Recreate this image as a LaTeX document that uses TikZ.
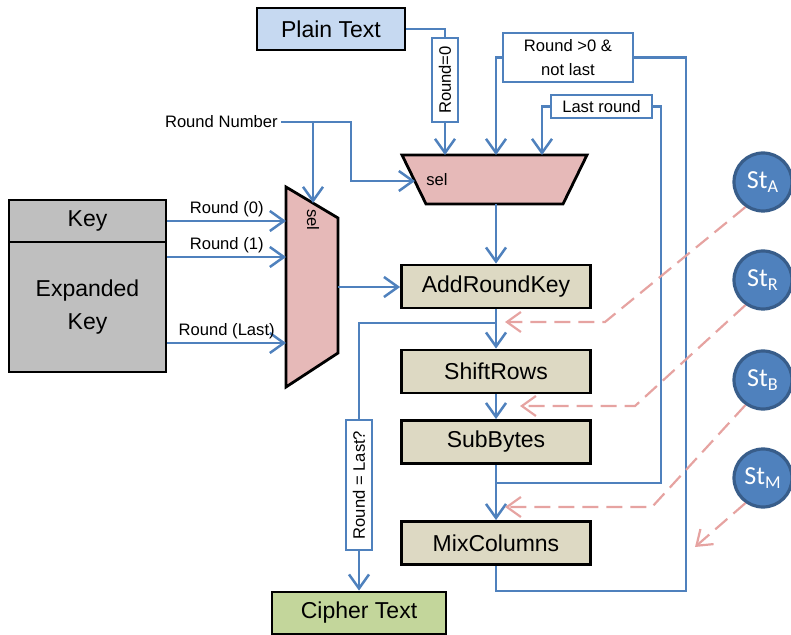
\documentclass[tikz,border=0pt]{standalone}
\usepackage{fontspec}
\setmainfont{Liberation Sans}
\newfontfamily\stfont{Carlito}
\usepackage{graphicx}
\usetikzlibrary{arrows.meta}

\definecolor{wireblue}{HTML}{4F81BD}
\definecolor{plainfill}{HTML}{C6D9F1}
\definecolor{keyfill}{HTML}{BFBFBF}
\definecolor{stagefill}{HTML}{DDD9C3}
\definecolor{cipherfill}{HTML}{C3D69B}
\definecolor{muxfill}{HTML}{E6B9B8}
\definecolor{dashpink}{HTML}{E6A3A1}
\definecolor{stfill}{HTML}{4F81BD}
\definecolor{stborder}{HTML}{385D8A}

\tikzset{
  wire/.style={draw=wireblue, line width=1.25pt},
  wirearrow/.style={wire, -{Straight Barb[length=7pt,width=10pt]}},
  statearrow/.style={draw=dashpink, line width=1.1pt, dash pattern=on 8pt off 4pt, -{Straight Barb[length=7pt,width=10pt]}},
  blockbox/.style={draw, line width=1.4pt, inner sep=0pt, font=\fontsize{11.5}{16.5}\selectfont},
  stagebox/.style={blockbox, fill=stagefill, minimum width=94.5pt, minimum height=21.5pt},
  condbox/.style={draw=wireblue, line width=1.1pt, fill=white, inner sep=0pt, font=\fontsize{8.3}{12}\selectfont},
  busname/.style={font=\fontsize{8.3}{10}\selectfont, inner sep=1.5pt},
  muxshape/.style={draw, line width=1.4pt, fill=muxfill},
  statenode/.style={circle, draw=stborder, line width=1.6pt, fill=stfill, minimum size=29pt, inner sep=0pt, text=white, font=\stfont\fontsize{13}{14}\selectfont}
}

\begin{document}
\begin{tikzpicture}[x=0.5pt,y=-0.5pt]
\useasboundingbox (0,0) rectangle (791,635);

% inputs and outputs
\node[blockbox, fill=plainfill, minimum width=74pt, minimum height=21pt] (plain) at (331,29) {Plain Text};
\node[blockbox, fill=keyfill, minimum width=78.5pt, minimum height=21pt] (key) at (87.5,221) {Key};
\node[blockbox, fill=keyfill, minimum width=78.5pt, minimum height=65pt, align=center] (expkey) at (87.5,307) {Expanded\\Key};
\node[blockbox, fill=cipherfill, minimum width=87pt, minimum height=21pt] (cipher) at (359,613) {Cipher Text};

% round stages
\node[stagebox] (ark) at (496,286.5) {AddRoundKey};
\node[stagebox] (shift) at (496,371.5) {ShiftRows};
\node[stagebox] (sub) at (496,442) {SubBytes};
\node[stagebox] (mix) at (496,543) {MixColumns};

% condition labels
\node[condbox, minimum width=13pt, minimum height=42pt] (round0) at (445,80) {\rotatebox{90}{Round=0}};
\node[condbox, minimum width=13pt, minimum height=65pt] (islast) at (359,485) {\rotatebox{90}{Round = Last?}};
\node[condbox, minimum width=65pt, minimum height=24.5pt, align=center] (notlast) at (568,57.5) {Round >0 \&\\not last};
\node[condbox, minimum width=50.5pt, minimum height=11.5pt] (lastrnd) at (601.5,106.5) {Last round};
\node[busname, anchor=east] (rnum) at (281,122) {Round Number};

% multiplexers
\draw[muxshape] (286,187) -- (338,218) -- (338,353) -- (286,387) -- cycle;
\node[busname] (selLtxt) at (313,220) {\rotatebox{-90}{sel}};
\draw[muxshape] (402,155) -- (587,155) -- (563,204) -- (426,204) -- cycle;
\node[busname] (selTtxt) at (437,180) {sel};

\coordinate (selL-sel) at (313,203);
\coordinate (selL-in0) at (286,221);
\coordinate (selL-in1) at (286,257);
\coordinate (selL-in2) at (286,343);
\coordinate (selL-out) at (338,287);
\coordinate (selT-sel) at (415,181);
\coordinate (selT-in0) at (445,155);
\coordinate (selT-in1) at (496,155);
\coordinate (selT-in2) at (542,155);
\coordinate (selT-out) at (496,204);

% state nodes
\node[statenode] (stA) at (763,182) {St\textsubscript{A}};
\node[statenode] (stR) at (763,280) {St\textsubscript{R}};
\node[statenode] (stB) at (763,380) {St\textsubscript{B}};
\node[statenode] (stM) at (763,478) {St\textsubscript{M}};

% round number
\coordinate (rnsplit) at (313,122);
\coordinate (rnbend) at (351,122);
\draw[wirearrow] (rnum.east) -- (rnbend) |- (selT-sel);
\draw[wirearrow] (rnsplit) -- (selL-sel);

% key schedule
\draw[wirearrow] (selL-in0 -| key.east) -- node[busname, above] (r0lbl) {Round (0)} (selL-in0);
\draw[wirearrow] (selL-in1 -| expkey.east) -- node[busname, above] (r1lbl) {Round (1)} (selL-in1);
\draw[wirearrow] (selL-in2 -| expkey.east) -- node[busname, above] (rllbl) {Round (Last)} (selL-in2);
\draw[wirearrow] (selL-out) -- (selL-out -| ark.west);

% top selector inputs
\draw[wire] (plain.east) -| (round0.north);
\draw[wirearrow] (round0.south) -- (selT-in0);
\draw[wirearrow] (notlast.west) -| (selT-in1);
\draw[wirearrow] (lastrnd.west) -| (selT-in2);
\draw[wirearrow] (selT-out) -- (ark.north);

% round datapath
\coordinate (arkjoin) at (496,323);
\coordinate (subjoin) at (496,483);
\coordinate (loopA) at (661,483);
\coordinate (loopB) at (686,591);
\draw[wirearrow] (ark.south) -- (shift.north);
\draw[wirearrow] (shift.south) -- (sub.north);
\draw[wirearrow] (sub.south) -- (mix.north);
\draw[wire] (arkjoin) -| (islast.north);
\draw[wirearrow] (islast.south) -- (cipher.north);
\draw[wire] (lastrnd.east) -| (loopA) -- (subjoin);
\draw[wire] (notlast.east) -| (loopB) -| (mix.south);

% state taps
\coordinate (tapA) at (505,322);
\coordinate (tapR) at (520,406);
\coordinate (tapB) at (505,507);
\coordinate (tapM) at (695,547);
\draw[statearrow] (stA.235) -- (605,322) -- (tapA);
\draw[statearrow] (stR.235) -- (635,406) -- (tapR);
\draw[statearrow] (stB.235) -- (652,507) -- (tapB);
\draw[statearrow] (stM.235) -- (tapM);

\end{tikzpicture}
\end{document}
